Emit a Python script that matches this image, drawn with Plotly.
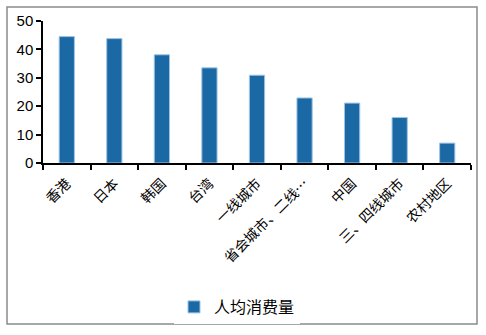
import plotly.graph_objects as go

categories = ["香港", "日本", "韩国", "台湾", "一线城市", "省会城市、二线…", "中国", "三、四线城市", "农村地区"]
values = [44.5, 43.8, 38.1, 33.5, 30.9, 22.9, 21.1, 16.0, 7.0]
series_name = "人均消费量"
y_ticks = [0, 10, 20, 30, 40, 50]

fig = go.Figure()
fig.add_trace(go.Bar(
    x=categories, y=values, name=series_name,
    marker=dict(color="#1a69a4", line=dict(color="#9cc3e6", width=1)),
))

L, R, T, B = 43, 15, 21, 172
pw = 486 - L - R
ph = 335 - T - B

def px_x(p):
    return (p - L) / pw

def px_y(p):
    return (335 - B - p) / ph

fig.add_shape(type="rect", xref="paper", yref="paper",
              x0=px_x(7), x1=px_x(477), y0=px_y(324), y1=px_y(7),
              line=dict(color="#8a8a8a", width=1.5), layer="below")

fig.update_layout(
    width=486, height=335,
    margin=dict(l=L, r=R, t=T, b=B),
    paper_bgcolor="white", plot_bgcolor="white",
    bargap=0.68,
    showlegend=True,
    legend=dict(orientation="h", x=0.5 - 20 / pw, xanchor="center", y=1 - 307 / 335, yref="container",
                yanchor="middle", font=dict(family="Noto Sans CJK SC", size=16, color="black"),
                itemwidth=30),
    xaxis=dict(
        showline=True, linecolor="black", linewidth=1.5,
        ticks="outside", ticklen=5, tickcolor="black", tickwidth=1.5,
        tickson="boundaries", tickangle=-45, ticklabelstandoff=5,
        tickfont=dict(family="Noto Sans CJK SC", size=14, color="black"),
        showgrid=False,
    ),
    yaxis=dict(
        range=[0, 50], tickvals=y_ticks,
        showline=True, linecolor="black", linewidth=1.5,
        ticks="outside", ticklen=5, tickcolor="black", tickwidth=1.5,
        tickfont=dict(family="Liberation Sans, Arial", size=15, color="black"),
        showgrid=False, zeroline=False,
    ),
)

fig.write_html("out.html")
